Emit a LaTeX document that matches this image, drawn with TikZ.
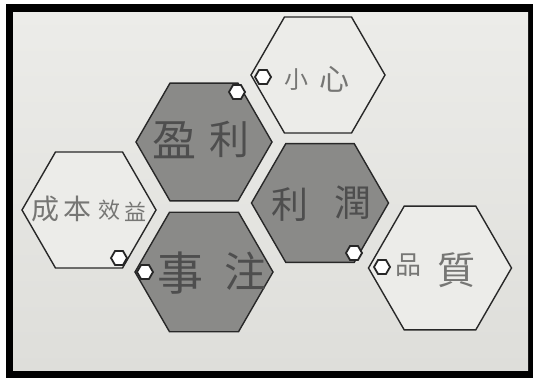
\documentclass[tikz,border=0pt]{standalone}
\usepackage{fontspec}
\newfontfamily\cjk{Noto Sans CJK TC}
\usetikzlibrary{shapes.geometric}
\definecolor{paper}{RGB}{222,222,218}
\definecolor{paperlight}{RGB}{236,236,233}
\definecolor{darkhex}{RGB}{138,138,136}
\definecolor{edge}{RGB}{40,40,40}
\definecolor{pencil}{RGB}{118,118,116}
\definecolor{pencildark}{RGB}{78,78,78}
\tikzset{
  hexbox/.style={regular polygon, regular polygon sides=6, inner sep=0pt, outer sep=0pt,
    minimum size=#1, draw=edge, line width=1.4pt},
  lighthex/.style={hexbox=#1, fill=paperlight},
  darkhexbox/.style={hexbox=#1, fill=darkhex},
  marker/.style={regular polygon, regular polygon sides=6, inner sep=0pt, minimum size=16pt,
    draw=black!85, line width=1.8pt, fill=white},
  word/.style={text=pencil, inner sep=0pt},
  wordd/.style={text=pencildark, inner sep=0pt}
}
\newcommand\cjksize[1]{\cjk\fontsize{#1}{#1}\selectfont}
\begin{document}
\begin{tikzpicture}[x=1pt,y=-1pt]
\useasboundingbox (0,0) rectangle (533,378);
\fill[white] (0,0) rectangle (533,378);
\fill[black] (6,4) rectangle (533,378);
\shade[top color=paperlight, bottom color=paper] (13,12) rectangle (528,370);
% hexagons
\node[lighthex=134] (xiaoxin) at (318,75) {};
\node[darkhexbox=136] (yingli) at (204,142) {};
\node[lighthex=134] (chengben) at (89,210) {};
\node[darkhexbox=138] (shizhu) at (204,272) {};
\node[darkhexbox=137] (lirun) at (320,203) {};
\node[lighthex=143] (pinzhi) at (440,268) {};
% markers
\node[marker] (m1) at (237,92) {};
\node[marker] (m2) at (263,77) {};
\node[marker] (m3) at (119,258) {};
\node[marker] (m4) at (145,272) {};
\node[marker] (m5) at (354,253) {};
\node[marker] (m6) at (382,267) {};
% texts
\node[word, font=\cjksize{24}] (t1a) at (296,80) {小};
\node[word, font=\cjksize{30}] (t1b) at (334,79) {心};
\node[wordd, font=\cjksize{44}] (t2a) at (174,140) {盈};
\node[wordd, font=\cjksize{40}] (t2b) at (229,139) {利};
\node[word, font=\cjksize{28}] (t3a) at (45,209) {成};
\node[word, font=\cjksize{28}] (t3b) at (77,209) {本};
\node[word, font=\cjksize{22}] (t3c) at (109,210) {效};
\node[word, font=\cjksize{22}] (t3d) at (135,212) {益};
\node[wordd, font=\cjksize{46}] (t4a) at (180,273) {事};
\node[wordd, font=\cjksize{42}] (t4b) at (245,271) {注};
\node[wordd, font=\cjksize{37}] (t5a) at (290,205) {利};
\node[wordd, font=\cjksize{37}] (t5b) at (353,203) {潤};
\node[word, font=\cjksize{26}] (t6a) at (408,265) {品};
\node[word, font=\cjksize{38}] (t6b) at (456,270) {質};
\end{tikzpicture}
\end{document}
